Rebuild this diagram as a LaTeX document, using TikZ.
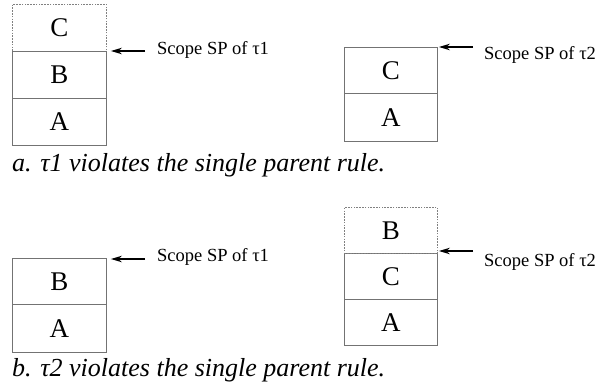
\documentclass[tikz,border=0pt]{standalone}
\usepackage{fontspec}
\setmainfont{Liberation Serif}
\usetikzlibrary{arrows.meta}
\begin{document}
\begin{tikzpicture}[x=1pt,y=-1pt,
  cell/.style={draw=black!55,line width=0.9pt,rectangle,inner sep=0pt,anchor=north west,minimum width=94pt,font=\fontsize{27}{27}\selectfont},
  ghost/.style={cell,draw=black!50,dash pattern=on 1.6pt off 1.2pt},
  lab/.style={anchor=west,inner sep=0pt,font=\fontsize{18.5}{19}\selectfont},
  captext/.style={anchor=west,inner sep=0pt,font=\fontsize{26}{27}\selectfont\itshape},
  arr/.style={-{Stealth[length=11pt,width=6.5pt]},line width=1.3pt,black}]
\useasboundingbox (0,0) rectangle (600,383);
% panel a, left
\node[ghost,minimum height=47pt] (aC1) at (12,4) {C};
\node[cell,minimum height=47pt] (aB1) at (12,51) {B};
\node[cell,minimum height=47pt] (aA1) at (12,98) {A};
\node[lab] (al1) at (157,50) {Scope SP of τ1};
\draw[arr] ([xshift=-12pt]al1.west |- aB1.north east) -- ([xshift=4pt]aB1.north east);
% panel a, right
\node[cell,minimum height=46pt,minimum width=93pt] (aC2) at (344,47) {C};
\node[cell,minimum height=48pt,minimum width=93pt] (aA2) at (344,93) {A};
\node[lab] (al2) at (484,55) {Scope SP of τ2};
\draw[arr] ([xshift=-11pt]al2.west |- aC2.north east) -- ([xshift=1pt]aC2.north east);
\node[captext] (capa) at (12,165) {a. τ1 violates the single parent rule.};
% panel b, left
\node[cell,minimum height=46pt] (bB1) at (12,258) {B};
\node[cell,minimum height=48pt] (bA1) at (12,304) {A};
\node[lab] (bl1) at (157,257) {Scope SP of τ1};
\draw[arr] ([xshift=-12pt,yshift=-1pt]bl1.west |- bB1.north east) -- ([xshift=4pt,yshift=-1pt]bB1.north east);
% panel b, right
\node[cell,minimum height=46pt,minimum width=93pt] (bC2) at (344,253) {C};
\node[cell,minimum height=46pt,minimum width=93pt] (bA2) at (344,299) {A};
\node[ghost,minimum height=46pt,minimum width=93pt] (bB2) at (344,207) {B};
\node[lab] (bl2) at (484,262) {Scope SP of τ2};
\draw[arr] ([xshift=-11pt,yshift=2pt]bl2.west |- bC2.north east) -- ([xshift=1pt,yshift=2pt]bC2.north east);
\node[captext] (capb) at (12,370) {b. τ2 violates the single parent rule.};
\end{tikzpicture}
\end{document}
